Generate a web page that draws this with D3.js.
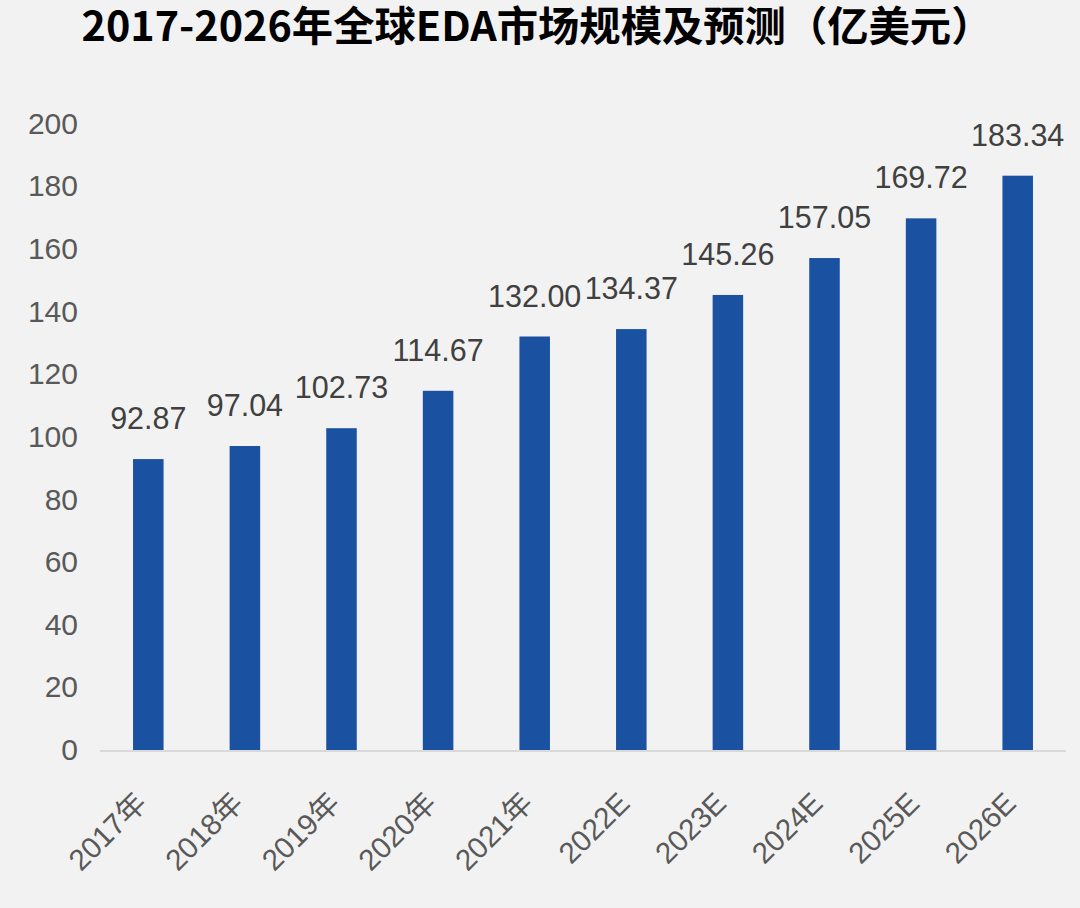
<!DOCTYPE html>
<html>
<head>
<meta charset="utf-8">
<script src="https://cdn.jsdelivr.net/npm/d3@7"></script>
<style>
  html, body { margin: 0; padding: 0; background: #f2f2f2; }
  svg { display: block; }
</style>
</head>
<body>
<div id="chart"></div>
<script>
// chart data
const years = ["2017年", "2018年", "2019年", "2020年", "2021年", "2022E", "2023E", "2024E", "2025E", "2026E"];
const marketSize = [92.87, 97.04, 102.73, 114.67, 132.00, 134.37, 145.26, 157.05, 169.72, 183.34];
const yTicks = [0, 20, 40, 60, 80, 100, 120, 140, 160, 180, 200];
const titleText = "2017-2026年全球EDA市场规模及预测（亿美元）";

const width = 1080, height = 908;
const latin = "'Liberation Sans', Arial, 'Noto Sans CJK SC', sans-serif";

const svg = d3.select("#chart")
  .append("svg")
  .attr("width", width)
  .attr("height", height);

svg.append("rect")
  .attr("width", width)
  .attr("height", height)
  .attr("fill", "#f2f2f2");

// title
svg.append("text")
  .attr("x", 537)
  .attr("y", 41)
  .attr("text-anchor", "middle")
  .attr("font-family", "'Noto Sans CJK SC', sans-serif")
  .attr("font-weight", "bold")
  .attr("font-size", 41)
  .attr("fill", "#000")
  .attr("textLength", 911)
  .attr("lengthAdjust", "spacingAndGlyphs")
  .text(titleText);

const x = d3.scaleBand()
  .domain(years)
  .range([100, 1066])
  .paddingInner(0.684)
  .paddingOuter(0.342);

const y = d3.scaleLinear()
  .domain([0, 200])
  .range([750, 123.5]);

// y axis (labels only)
const yAxis = svg.append("g")
  .attr("transform", "translate(78,0)")
  .call(d3.axisLeft(y).tickValues(yTicks).tickSize(0).tickPadding(0));
yAxis.select(".domain").remove();
yAxis.selectAll("text")
  .attr("font-family", latin)
  .attr("font-size", 30)
  .attr("fill", "#595959");

// bars
svg.selectAll(".bar")
  .data(marketSize)
  .enter()
  .append("rect")
  .attr("class", "bar")
  .attr("x", (d, i) => x(years[i]))
  .attr("y", d => y(d))
  .attr("width", x.bandwidth())
  .attr("height", d => y(0) - y(d))
  .attr("fill", "#1a51a0");

// baseline
svg.append("line")
  .attr("x1", 100)
  .attr("x2", 1066)
  .attr("y1", y(0) + 1)
  .attr("y2", y(0) + 1)
  .attr("stroke", "#d9d9d9")
  .attr("stroke-width", 2);

// value labels
svg.selectAll(".val")
  .data(marketSize)
  .enter()
  .append("text")
  .attr("class", "val")
  .attr("x", (d, i) => x(years[i]) + x.bandwidth() / 2)
  .attr("y", d => y(d) - 30)
  .attr("text-anchor", "middle")
  .attr("font-family", latin)
  .attr("font-size", 30.5)
  .attr("fill", "#404040")
  .text(d => d.toFixed(2));

// x labels, rotated
svg.selectAll(".xlab")
  .data(years)
  .enter()
  .append("text")
  .attr("class", "xlab")
  .attr("transform", d => `translate(${x(d) + x.bandwidth() / 2},805) rotate(-45)`)
  .attr("text-anchor", "end")
  .attr("font-family", latin)
  .attr("font-size", 29.5)
  .attr("fill", "#595959")
  .text(d => d);
</script>
</body>
</html>
